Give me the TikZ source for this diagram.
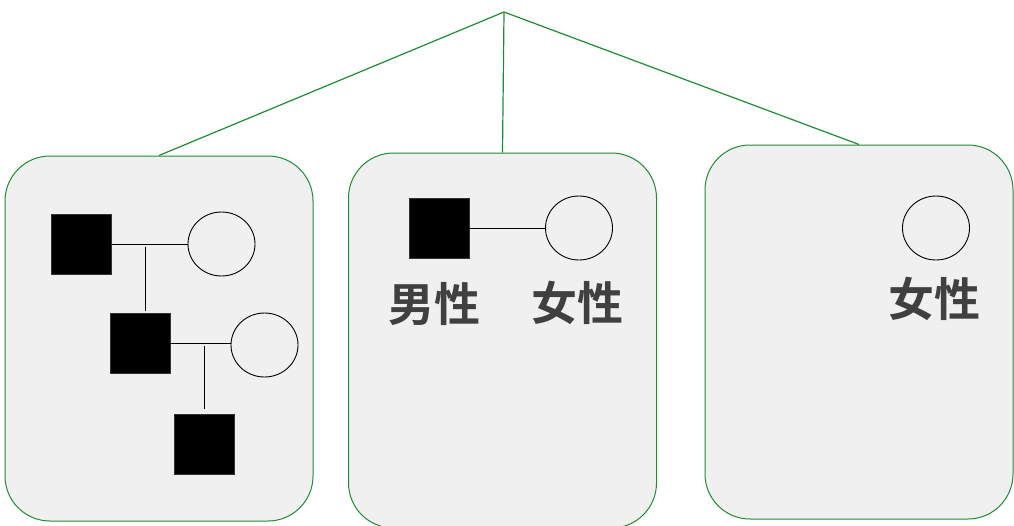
\documentclass[tikz,border=0pt]{standalone}
\usepackage{fontspec}
\newfontfamily\cjk{Noto Sans CJK SC}[BoldFont={Noto Sans CJK SC Bold}]
\usepackage{tikz}
\usetikzlibrary{shapes.geometric,positioning}
\usepackage{xcolor}
\definecolor{treegreen}{RGB}{30,140,50}
\definecolor{boxgray}{RGB}{240,240,240}
\definecolor{textgray}{RGB}{64,64,64}

\begin{document}
\begin{tikzpicture}
      [x=1pt, y=-1pt,
      box style/.style={draw=treegreen, fill=boxgray, line width=1pt, rectangle, rounded corners=45pt, minimum width=308pt},
      male style/.style={draw=black!80, fill=black, rectangle, minimum size=60pt, inner sep=0pt},
      female style/.style={draw, ellipse, line width=0.9pt, minimum width=67pt, minimum height=64pt, inner sep=0pt},
      label style/.style={font=\cjk\bfseries\fontsize{46}{50}\selectfont, text=textgray, inner sep=0pt},
      branch/.style={draw=treegreen, line width=1.2pt},
      couple/.style={draw, line width=0.9pt},
      ]
      \useasboundingbox (0,0) rectangle (1014,525);

      % family boxes
      \node[box style, minimum height=365pt] (fam1) at (159,338.5) {};
      \node[box style, minimum height=375pt] (fam2) at (502.5,340.5) {};
      \node[box style, minimum height=374pt] (fam3) at (859,332) {};

      % green branches
      \coordinate (top) at (504,12);
      \foreach \f in {fam1,fam2,fam3}
        \draw[branch] (top) -- (\f.north);

      % first box
      \node[male style] (m1) at (81.5,244) {};
      \node[female style] (f1) at (221.5,244) {};
      \node[male style] (m2) at (140,343) {};
      \node[female style] (f2) at (264.5,345) {};
      \node[male style] (m3) at (204,444) {};
      \draw[couple] (m1) -- (f1);
      \coordinate (c1) at (145,244);
      \draw[couple, shorten <=3pt, shorten >=2pt] (c1) -- (c1 |- m2.north);
      \draw[couple] (m2.east) -- (f2.west |- m2.east);
      \coordinate (c2) at (204,343);
      \draw[couple, shorten <=3pt, shorten >=5pt] (c2) -- (m3.north);

      % second box
      \node[male style] (m4) at (439,228) {};
      \node[female style] (f4) at (579,228) {};
      \draw[couple] (m4) -- (f4);
      \node[label style] (l4) at (434.5,303.5) {男性};
      \node[label style] (l5) at (577.5,303) {女性};

      % third box
      \node[female style] (f6) at (936,228) {};
      \node[label style] (l6) at (934.5,299) {女性};
\end{tikzpicture}
\end{document}
